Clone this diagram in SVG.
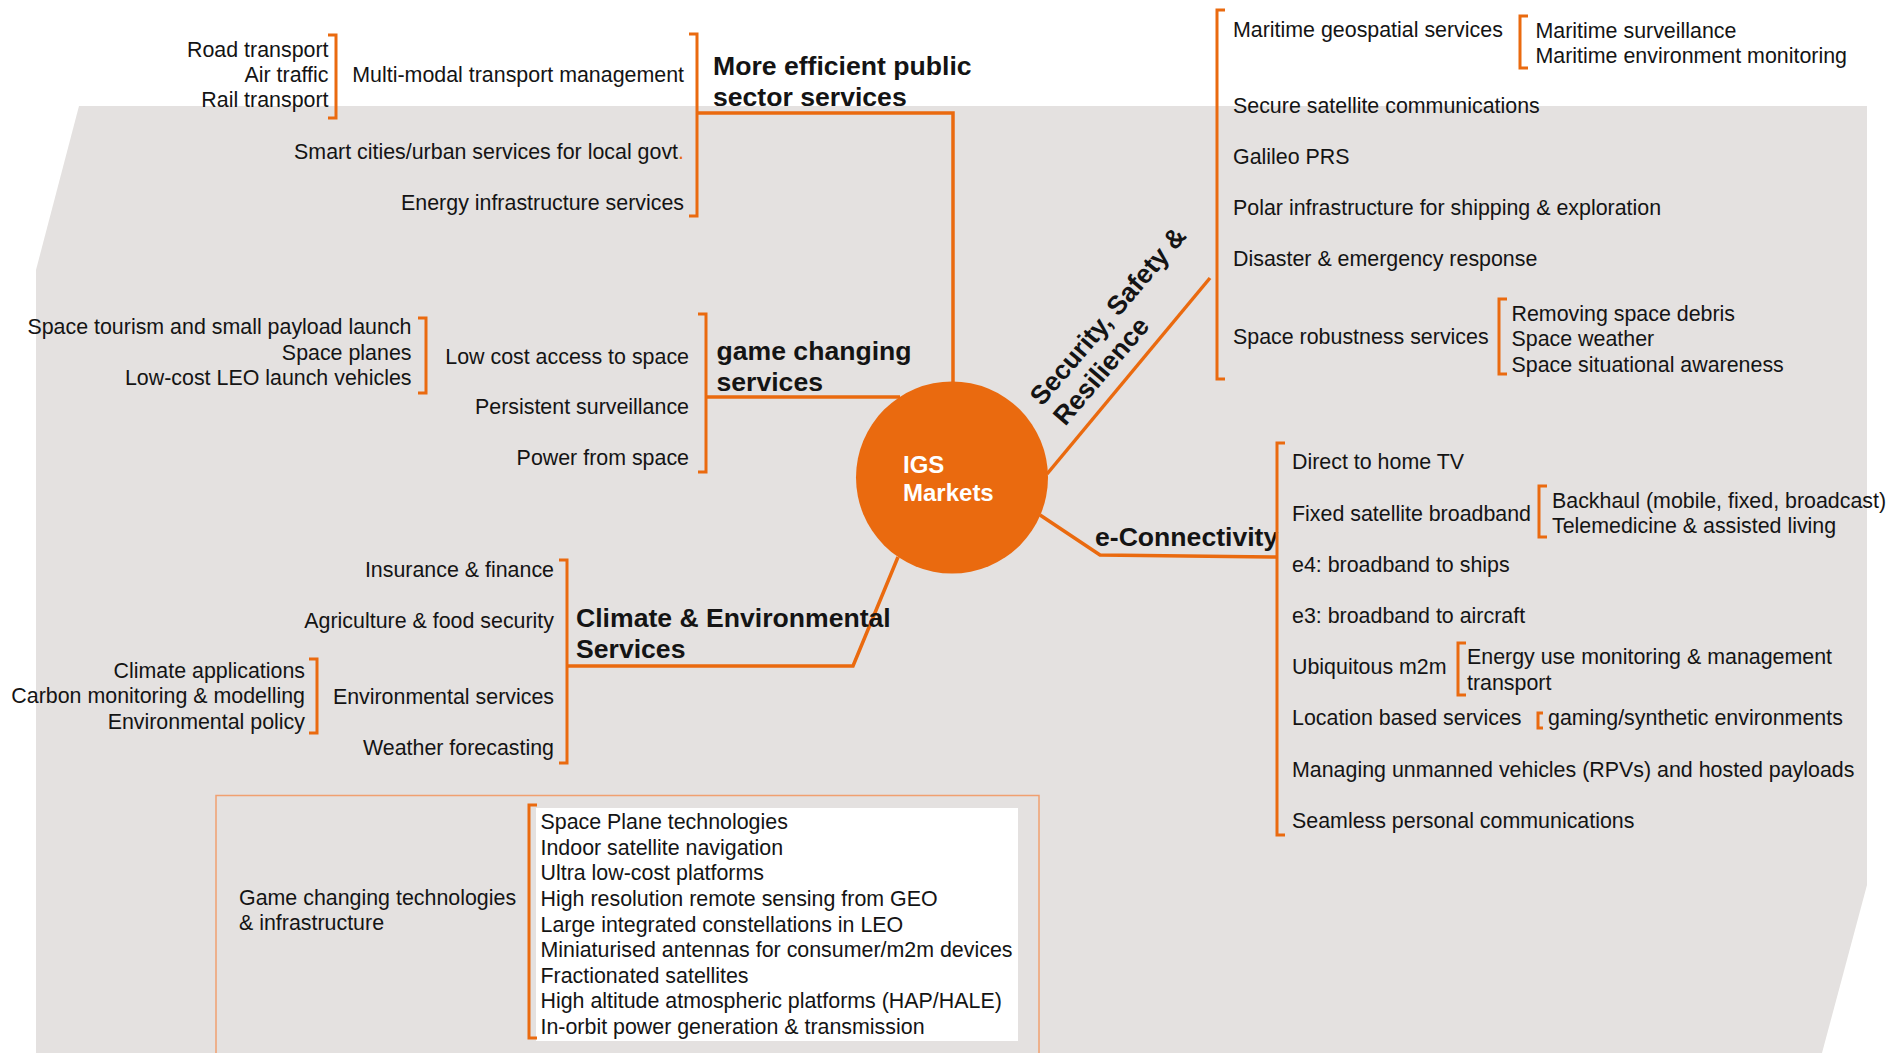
<svg xmlns="http://www.w3.org/2000/svg" width="1903" height="1053" viewBox="0 0 1903 1053">
<style>
text{font-family:"Liberation Sans",Arial,sans-serif;fill:#141414}
.t{font-size:21.4px;transform:translateY(1.2px)}
.r{text-anchor:end}
.h{font-size:26.6px;font-weight:bold}
.br{fill:none;stroke:#EA6A0F;stroke-width:3}
.cn{fill:none;stroke:#EA6A0F;stroke-width:3.5}
.o{fill:#EA6A0F}
</style>
<rect x="0" y="0" width="1903" height="1053" fill="#ffffff"/>
<polygon points="79,106 1867,106 1867,885 1822,1053 36,1053 36,270" fill="#E4E1E0"/>

<g id="connectors">
<polyline class="cn" points="697,113 953,113 953,384"/>
<polyline class="cn" points="706,397 900,397"/>
<polyline class="cn" points="567,666 853,666 898,557"/>
<polyline class="cn" points="1047,474 1210,278"/>
<polyline class="cn" points="1040,515 1100,555 1277,557"/>
</g>

<g id="center">
<circle cx="952" cy="477.5" r="96" class="o"/>
<text x="903" y="473" style="font-size:24px;font-weight:bold;fill:#fff">IGS</text>
<text x="903" y="501" style="font-size:24px;font-weight:bold;fill:#fff">Markets</text>
</g>

<g id="public-sector">
<text class="h" x="713" y="75">More efficient public</text>
<text class="h" x="713" y="106">sector services</text>
<path class="br" d="M689,34 H697 V216 H689"/>
<text class="t r" x="684" y="81">Multi-modal transport management</text>
<text class="t r" x="684" y="158">Smart cities/urban services for local govt<tspan style="fill:#EA6A0F">.</tspan></text>
<text class="t r" x="684" y="208.5">Energy infrastructure services</text>
<path class="br" d="M328,35 H336 V118 H328"/>
<text class="t r" x="328.5" y="56">Road transport</text>
<text class="t r" x="328.5" y="81">Air traffic</text>
<text class="t r" x="328.5" y="106">Rail transport</text>
</g>

<g id="game-changing">
<text class="h" x="716.5" y="360">game changing</text>
<text class="h" x="716.5" y="391">services</text>
<path class="br" d="M698,314 H706 V472 H698"/>
<text class="t r" x="689" y="362.5">Low cost access to space</text>
<text class="t r" x="689" y="413">Persistent surveillance</text>
<text class="t r" x="689" y="464">Power from space</text>
<path class="br" d="M418,318 H426 V393 H418"/>
<text class="t r" x="411.5" y="333">Space tourism and small payload launch</text>
<text class="t r" x="411.5" y="358.5">Space planes</text>
<text class="t r" x="411.5" y="384">Low-cost LEO launch vehicles</text>
</g>

<g id="climate">
<text class="h" x="576" y="627">Climate &amp; Environmental</text>
<text class="h" x="576" y="658">Services</text>
<path class="br" d="M559,560 H567 V763 H559"/>
<text class="t r" x="554" y="575.5">Insurance &amp; finance</text>
<text class="t r" x="554" y="626.5">Agriculture &amp; food security</text>
<text class="t r" x="554" y="703">Environmental services</text>
<text class="t r" x="554" y="754">Weather forecasting</text>
<path class="br" d="M309,659 H317 V733 H309"/>
<text class="t r" x="305" y="676.5">Climate applications</text>
<text class="t r" x="305" y="702">Carbon monitoring &amp; modelling</text>
<text class="t r" x="305" y="727.5">Environmental policy</text>
</g>

<g id="security">
<text class="h" transform="translate(1042,407) rotate(-49.5)"><tspan x="0" y="0">Security, Safety &amp;</tspan><tspan x="0" y="30.5">Resilience</tspan></text>
<path class="br" d="M1225,10 H1217 V379 H1225"/>
<text class="t" x="1233" y="35.5">Maritime geospatial services</text>
<path class="br" d="M1528,16 H1520 V68 H1528"/>
<text class="t" x="1535.5" y="37">Maritime surveillance</text>
<text class="t" x="1535.5" y="62">Maritime environment monitoring</text>
<text class="t" x="1233" y="112">Secure satellite communications</text>
<text class="t" x="1233" y="163">Galileo PRS</text>
<text class="t" x="1233" y="214">Polar infrastructure for shipping &amp; exploration</text>
<text class="t" x="1233" y="265">Disaster &amp; emergency response</text>
<text class="t" x="1233" y="342.5">Space robustness services</text>
<path class="br" d="M1507,299 H1499 V374 H1507"/>
<text class="t" x="1511.5" y="319.5">Removing space debris</text>
<text class="t" x="1511.5" y="345">Space weather</text>
<text class="t" x="1511.5" y="370.5">Space situational awareness</text>
</g>

<g id="e-connectivity">
<text class="h" x="1095" y="546">e-Connectivity</text>
<path class="br" d="M1285,443 H1277 V835 H1285"/>
<text class="t" x="1292" y="467.5">Direct to home TV</text>
<text class="t" x="1292" y="519.5">Fixed satellite broadband</text>
<path class="br" d="M1547,486 H1539 V537 H1547"/>
<text class="t" x="1552" y="506.5">Backhaul (mobile, fixed, broadcast)</text>
<text class="t" x="1552" y="532">Telemedicine &amp; assisted living</text>
<text class="t" x="1292" y="571">e4: broadband to ships</text>
<text class="t" x="1292" y="622">e3: broadband to aircraft</text>
<text class="t" x="1292" y="673">Ubiquitous m2m</text>
<path class="br" d="M1466,643 H1458 V695 H1466"/>
<text class="t" x="1467" y="662.5">Energy use monitoring &amp; management</text>
<text class="t" x="1467" y="688.5">transport</text>
<text class="t" x="1292" y="724">Location based services</text>
<path class="br" d="M1543,713 H1538 V728 H1543"/>
<text class="t" x="1548" y="724">gaming/synthetic environments</text>
<text class="t" x="1292" y="776">Managing unmanned vehicles (RPVs) and hosted payloads</text>
<text class="t" x="1292" y="827">Seamless personal communications</text>
</g>

<g id="technologies">
<rect x="216" y="795.5" width="823" height="280" fill="none" stroke="#F0A070" stroke-width="1.5"/>
<rect x="536" y="808" width="482" height="233" fill="#ffffff"/>
<text class="t" x="239" y="903.5">Game changing technologies</text>
<text class="t" x="239" y="928.5">&amp; infrastructure</text>
<path class="br" d="M537,805 H529 V1038 H537"/>
<text class="t" x="540.5" y="828">Space Plane technologies</text>
<text class="t" x="540.5" y="853.6">Indoor satellite navigation</text>
<text class="t" x="540.5" y="879.2">Ultra low-cost platforms</text>
<text class="t" x="540.5" y="904.8">High resolution remote sensing from GEO</text>
<text class="t" x="540.5" y="930.4">Large integrated constellations in LEO</text>
<text class="t" x="540.5" y="956">Miniaturised antennas for consumer/m2m devices</text>
<text class="t" x="540.5" y="981.6">Fractionated satellites</text>
<text class="t" x="540.5" y="1007.2">High altitude atmospheric platforms (HAP/HALE)</text>
<text class="t" x="540.5" y="1032.8">In-orbit power generation &amp; transmission</text>
</g>
</svg>
